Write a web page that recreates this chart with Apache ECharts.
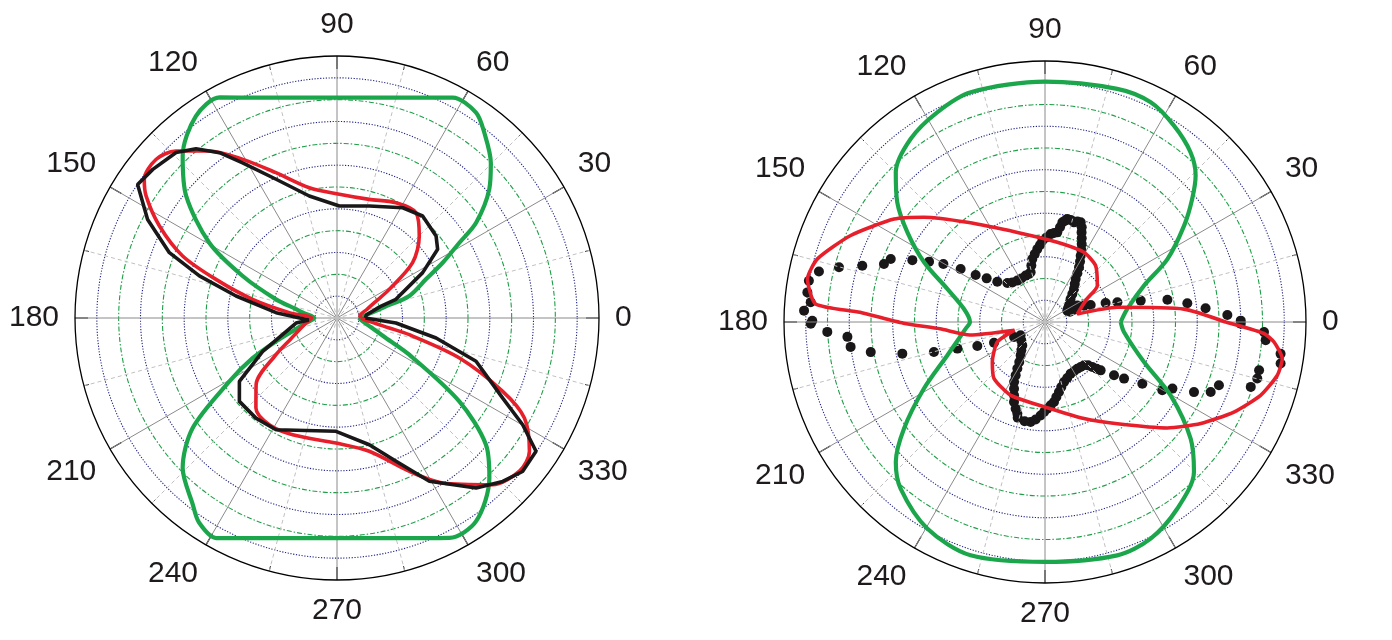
<!DOCTYPE html>
<html>
<head>
<meta charset="utf-8">
<title>polar patterns</title>
<script src="https://cdn.jsdelivr.net/npm/echarts@6/dist/echarts.min.js"></script>
<style>
  html, body { margin: 0; padding: 0; background: #fff; }
  #chart { width: 1392px; height: 640px; }
</style>
</head>
<body>
<div id="chart"></div>
<script>
  // tick labels of the angle axis
  var angleTicks = ['0', '30', '60', '90', '120', '150', '180', '210', '240', '270', '300', '330']

  // left plot: angles (deg) and radii (grid rings)
  var leftGreenAngle = [0, 9, 13, 17, 23.5, 27.6, 31.6, 34.4, 40.2, 45.2, 51.5, 55.9, 62.3, 70, 80, 90, 100, 110, 118, 125, 133.6, 141, 149.5, 156, 163, 167.5, 171.8, 180,
    190, 195.5, 200.9, 205.5, 210.5, 217.3, 224.2, 232.3, 236, 241.2, 250, 260, 270, 280, 290, 297.1, 304.4, 313.6, 319.6, 325.7, 333.1, 337.8, 345, 352.6, 360]
  var leftGreenR = [1.0, 1.62, 2.23, 3.46, 4.44, 5.46, 6.58, 7.72, 9.13, 10.0, 10.84, 11.36, 11.4, 10.74, 10.25, 10.09, 10.25, 10.74, 11.44, 11.28, 10.25, 8.89, 6.79, 4.73, 2.92, 1.97, 1.5, 1.04,
    1.5, 2.0, 2.99, 4.3, 5.72, 8.31, 9.86, 10.8, 11.3, 11.5, 10.73, 10.24, 10.08, 10.24, 10.73, 11.31, 11.28, 10.12, 8.96, 6.78, 3.71, 2.42, 1.6, 1.19, 1.0]

  var leftRedAngle = [0, 5, 16, 22.3, 28.7, 36.2, 44.9, 53.1, 62.9, 74.8, 88.9, 102, 112.8, 120.7, 127.4, 134, 138.8, 144.3, 147.4, 152.6, 158.1, 162.3, 167.5, 173.6, 180,
    189, 204.2, 211, 219.5, 228, 237.6, 249.2, 269.5, 283.6, 295.3, 302.6, 313, 320.1, 325.3, 331.9, 336.1, 341.9, 347, 349.2, 354, 360]
  var leftRedR = [1.1, 1.05, 1.42, 1.85, 2.73, 4.29, 5.32, 6.03, 5.93, 5.63, 5.67, 6.10, 7.22, 8.45, 9.63, 10.63, 11.02, 10.87, 10.38, 9.16, 7.62, 5.82, 3.96, 2.2, 1.16,
    1.44, 2.31, 3.26, 4.8, 5.55, 5.79, 5.72, 5.73, 6.28, 7.77, 8.97, 10.44, 10.91, 10.72, 9.73, 8.3, 5.9, 3.4, 2.44, 1.49, 1.1]

  var leftBlackAngle = [0, 6, 14.8, 17.6, 27.9, 34.3, 39.6, 50, 59.2, 73.9, 88.8, 102.8, 113.7, 121.3, 125.4, 129.8, 134.2, 141.1, 146.2, 152.5, 158.7, 163, 167.7, 175, 184,
    187, 204.2, 213, 220.5, 231, 241.4, 269.5, 284.3, 292.4, 299.5, 309.3, 315.4, 320.4, 326.2, 330.1, 334.2, 342.7, 348.6, 355.2, 360]
  var leftBlackR = [1.3, 1.35, 2.04, 2.83, 4.44, 5.58, 5.89, 6.10, 5.88, 5.34, 5.13, 5.73, 6.94, 8.32, 9.29, 10.09, 10.57, 10.84, 10.99, 9.78, 8.24, 6.59, 4.73, 2.8, 1.3,
    1.89, 3.73, 5.33, 5.88, 5.9, 5.83, 5.19, 5.99, 7.1, 8.59, 10.06, 10.66, 11.03, 10.97, 9.81, 8.43, 6.67, 4.63, 2.71, 1.3]

  // right plot
  var rightGreenAngle = [0, 9, 20.2, 27.2, 34.7, 39.9, 44.2, 49.4, 56.7, 64.3, 72.8, 90, 107.9, 117.2, 126.3, 134.9, 141, 146.9, 153.7, 161.3, 170.9, 180,
    184.8, 198.8, 208.8, 217.1, 223.2, 229.1, 240.3, 252.3, 270, 287.2, 296, 305.3, 314.8, 321.3, 329.7, 338, 352.8, 360]
  var rightGreenR = [3.48, 3.83, 4.85, 6.33, 7.78, 8.82, 9.66, 10.28, 10.8, 11.21, 11.22, 11.05, 11.1, 10.84, 10.44, 9.72, 8.74, 7.55, 6.2, 4.74, 3.77, 3.45,
    3.66, 4.74, 6.35, 8.13, 9.41, 10.14, 10.93, 11.26, 11.03, 11.23, 11.08, 10.52, 9.72, 8.58, 6.69, 4.91, 3.66, 3.48]

  var rightRedAngle = [0, 5.3, 11.5, 13.9, 28.4, 34.8, 48, 60.8, 81.2, 107.1, 127.9, 139.1, 145.7, 156, 164.5, 169.7, 175.5, 177, 180.5, 183.7, 189.8, 195,
    202.8, 217.2, 228, 245, 273.7, 292, 305.4, 319.1, 326.9, 334.5, 341.2, 347.1, 351.2, 355, 357, 360]
  var rightRedR = [8.3, 6.42, 3.39, 1.53, 2.16, 2.93, 3.48, 3.67, 3.71, 4.31, 5.81, 7.36, 8.4, 9.78, 10.86, 11.1, 10.58, 8.52, 6.51, 4.84, 3.5, 1.45,
    2.38, 3.04, 3.5, 3.72, 4.0, 4.79, 5.74, 7.44, 8.55, 9.62, 10.47, 10.96, 11.04, 10.57, 10.08, 8.3]

  var rightDotAngle = [167.4, 170.1, 172.9, 175.2, 177.3, 179.7, 165.1, 162.9, 160.2, 157.8, 155.0, 152.5, 150.3, 147.9, 145.9, 143.2, 139.8, 134, 123.8, 112.6, 106.1, 101.4, 96, 91.9, 86.3, 82.2, 80.1, 77.8, 73.8, 70.3,
    67.8, 64.8, 61.7, 58.1, 54.5, 48.7, 41.9, 34.2, 26.9, 28.2, 26.8, 20.4, 17.4, 15.2, 12.6, 10.3, 7.5, 4.9, 2.2, 0.4,
    129.5, 118.5, 108.4, 103.6, 98.6, 93.7, 88.9, 84.2, 81, 78.8, 75.9, 72.1, 68.8, 66.3, 63.3, 59.9, 56.4, 52, 45.7, 38.2, 30.7, 22.5, 23, 22.7,
    180.4, 182.6, 184.3, 187.3, 189.8, 192.5, 195.1, 196.9, 199.5, 202.1, 205.8, 208.7, 225.8, 233.9, 239.3, 242.7, 247.1, 251.3, 254.1, 261.8, 267.3, 271.5, 276.4, 281.3, 287.6,
    296.4, 304.7, 312, 316.4, 319, 322.3, 324.4, 327.6, 329.8, 332.4, 334.8, 337.1, 340, 342.5, 345.1, 347.3, 350, 352.3, 355.3, 357.4, 359.5,
    217.8, 230.1, 237.3, 241.2, 245.1, 248.8, 253.2, 258.4, 264.5, 269.4, 273.9, 278.6, 284.1, 291.7, 300.4, 308.4, 314.8, 317.9]
  var rightDotR = [10.65, 11.02, 11.01, 10.81, 11.09, 10.7, 9.8, 8.79, 7.87, 7.66, 6.73, 6.01, 5.38, 4.58, 3.85, 3.35, 2.87, 2.49, 2.29, 2.31, 2.38, 2.95, 3.37, 3.74, 4.05, 4.16, 4.65, 4.85, 4.77, 4.87,
    4.45, 3.96, 3.46, 2.96, 2.43, 2.02, 1.58, 1.33, 1.15, 1.43, 1.67, 2.24, 2.92, 3.45, 4.51, 5.72, 6.6, 7.41, 8.39, 9.0,
    2.36, 2.28, 2.33, 2.67, 3.16, 3.55, 3.89, 4.11, 4.41, 4.75, 4.84, 4.85, 4.67, 4.2, 3.72, 3.21, 2.69, 2.22, 1.8, 1.46, 1.23, 1.24, 1.45, 1.94,
    10.77, 10.02, 9.11, 9.01, 8.13, 6.72, 5.29, 4.21, 3.3, 2.53, 1.58, 1.28, 1.5, 1.9, 2.49, 3.1, 3.66, 4.21, 4.58, 4.64, 4.3, 3.99, 3.7, 3.28, 2.89,
    2.65, 2.61, 2.68, 3.0, 3.39, 4.01, 4.47, 5.3, 6.24, 6.61, 7.57, 8.27, 8.51, 9.92, 10.1, 10.09, 11.0, 10.93, 10.18, 10.08, 9.0,
    1.38, 1.7, 2.19, 2.8, 3.38, 3.94, 4.4, 4.66, 4.5, 4.14, 3.84, 3.49, 3.08, 2.77, 2.63, 2.64, 2.81, 3.2]

  var GREEN = '#1ca64c'
  var RED = '#e61f2b'
  var BLACK = '#1a1718'
  var TR = 'rgba(0,0,0,0)'

  function pairs (angles, radii) {
    return angles.map(function (a, i) { return [radii[i], a] })
  }

  // blue dotted rings on odd ticks, green dash-dot rings on even ticks (not the outer one)
  var blueRing = [TR, '#1f2383']
  var greenRing = [TR, TR, '#1f9e48', TR, '#1f9e48', TR, '#1f9e48', TR, '#1f9e48', TR, '#1f9e48', TR, TR]

  function hiddenAngle (idx) {
    return {
      polarIndex: idx, type: 'value', min: 0, max: 360, interval: 30, startAngle: 0, clockwise: false,
      axisLine: {show: false}, axisTick: {show: false}, axisLabel: {show: false}, splitLine: {show: false}
    }
  }

  function mainAngle (idx) {
    return {
      polarIndex: idx, type: 'value', min: 0, max: 360, interval: 30, startAngle: 0, clockwise: false, z: 3,
      axisLine: {show: true, lineStyle: {color: '#000', width: 1.3}},
      axisTick: {show: true, inside: true, length: 13, lineStyle: {color: '#000', width: 1.2}},
      minorTick: {show: true, splitNumber: 2, length: 5, lineStyle: {color: '#000', width: 1}},
      axisLabel: {
        show: true, margin: 16, color: '#1f1b1c', fontSize: 30, fontFamily: 'Liberation Sans',
        formatter: function (v) { return angleTicks[Math.round(v / 30) % 12] }
      },
      splitLine: {show: true, lineStyle: {color: '#8a8a8a', width: 1}},
      minorSplitLine: {show: true, lineStyle: {color: '#c0c0c0', width: 1, type: [4, 3]}}
    }
  }

  function ringAxis (idx, colors, dash) {
    return {
      polarIndex: idx, type: 'value', min: 0, max: 12, interval: 1,
      axisLine: {show: false}, axisTick: {show: false}, axisLabel: {show: false},
      splitLine: {show: true, lineStyle: {color: colors, width: 1.1, type: dash}}
    }
  }

  function lineSeries (idx, angles, radii, color, width, smooth) {
    return {
      type: 'line', coordinateSystem: 'polar', polarIndex: idx,
      data: pairs(angles, radii), showSymbol: false, smooth: smooth,
      lineStyle: {color: color, width: width}, clip: false
    }
  }

  var chart = echarts.init(document.getElementById('chart'))
  chart.setOption({
    animation: false,
    polar: [
      {center: [337, 318], radius: 262},
      {center: [337, 318], radius: 262},
      {center: [1045, 322], radius: 261},
      {center: [1045, 322], radius: 261}
    ],
    angleAxis: [hiddenAngle(0), mainAngle(1), hiddenAngle(2), mainAngle(3)],
    radiusAxis: [
      ringAxis(0, blueRing, [1.2, 1.6]),
      ringAxis(1, greenRing, [5, 2, 1.5, 2]),
      ringAxis(2, blueRing, [1.2, 1.6]),
      ringAxis(3, greenRing, [5, 2, 1.5, 2])
    ],
    series: [
      lineSeries(1, leftGreenAngle, leftGreenR, GREEN, 4.2, 0.3),
      lineSeries(1, leftRedAngle, leftRedR, RED, 3.6, 0.3),
      lineSeries(1, leftBlackAngle, leftBlackR, BLACK, 3.6, false),
      lineSeries(3, rightGreenAngle, rightGreenR, GREEN, 4.2, 0.3),
      lineSeries(3, rightRedAngle, rightRedR, RED, 3.6, 0.2),
      {
        type: 'scatter', coordinateSystem: 'polar', polarIndex: 3,
        data: pairs(rightDotAngle, rightDotR), symbol: 'circle', symbolSize: 10,
        itemStyle: {color: BLACK, opacity: 1}
      }
    ]
  })
</script>
</body>
</html>
